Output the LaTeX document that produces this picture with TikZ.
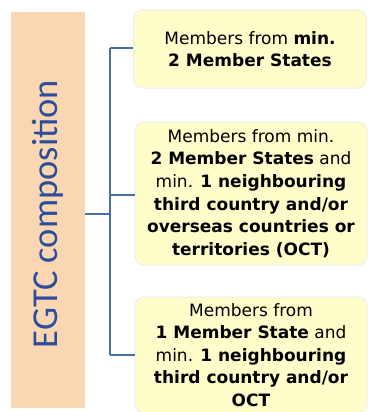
\documentclass[tikz,border=0pt]{standalone}
\usepackage{fontspec}
\setmainfont{DejaVu Sans}
\newfontfamily\labelfont{Carlito}
\definecolor{peach}{HTML}{FAD6B3}
\definecolor{titleblue}{HTML}{2B4E9B}
\definecolor{linkblue}{HTML}{4A6FA8}
\definecolor{boxfill}{HTML}{FFFDCA}
\definecolor{boxedge}{HTML}{EEEEEE}
\begin{document}
\begin{tikzpicture}[x=1pt,y=-1pt,
  infobox/.style={draw=boxedge, line width=1pt, fill=boxfill, rounded corners=9pt,
    align=center, font=\fontsize{17}{22.6}\selectfont, inner sep=0pt},
  link/.style={draw=linkblue, line width=1.2pt}]
\useasboundingbox (0,0) rectangle (367,412);
\node[fill=peach, minimum width=74pt, minimum height=396pt, inner sep=0pt] (title) at (48,210) {};
\node[rotate=90, anchor=base, inner sep=0pt, text=titleblue, font=\labelfont\fontsize{36.5}{40}\selectfont] (titletext) at (57,214) {EGTC composition};
\node[infobox, minimum width=233pt, minimum height=78pt] (b1) at (250,49)
  {Members from \textbf{min.}\\ \textbf{2 Member States}};
\node[infobox, minimum width=232pt, minimum height=143pt] (b2) at (251,193.5)
  {Members from min.\\ \textbf{2 Member States} and\\ min. \textbf{1 neighbouring}\\ \textbf{third country and/or}\\ \textbf{overseas countries or}\\ \textbf{territories (OCT)}};
\node[infobox, minimum width=232pt, minimum height=116pt] (b3) at (251,355)
  {Members from\\ \textbf{1 Member State} and\\ min. \textbf{1 neighbouring}\\ \textbf{third country and/or}\\ \textbf{OCT}};
\coordinate (hub) at (110,214);
\draw[link] (title.east |- hub) -- (hub);
\draw[link] (110,48) -- (110,355);
\draw[link] (110,48) -- (b1.west |- 0,48);
\draw[link] (110,195) -- (b2.west |- 0,195);
\draw[link] (110,355) -- (b3.west |- 0,355);
\end{tikzpicture}
\end{document}
